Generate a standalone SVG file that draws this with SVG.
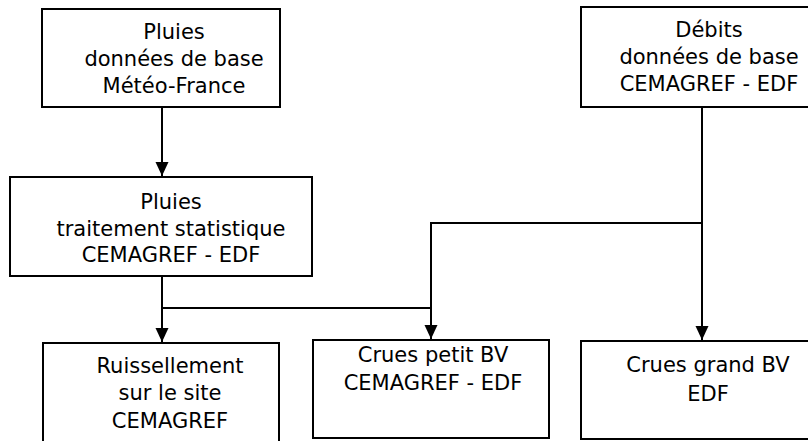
<svg xmlns="http://www.w3.org/2000/svg" width="808" height="441" viewBox="0 0 808 441">
<defs>
<marker id="arr" markerUnits="userSpaceOnUse" markerWidth="15" markerHeight="15" refX="14" refY="6.5" orient="auto">
<path d="M0,0 L14,6.5 L0,13 Z" fill="#000"/>
</marker>
<style>
.box{fill:#fff;stroke:#000;stroke-width:2}
.t{font-family:"DejaVu Sans","Liberation Sans",sans-serif;font-size:21px;fill:#000;text-anchor:middle}
.c{fill:none;stroke:#000;stroke-width:2}
</style>
</defs>
<rect width="808" height="441" fill="#fff"/>
<g id="connectors">
<path class="c" d="M162,107 V176" marker-end="url(#arr)"/>
<path class="c" d="M162,276 V342" marker-end="url(#arr)"/>
<path class="c" d="M162,308 H431 V339" marker-end="url(#arr)"/>
<path class="c" d="M702,107 V340" marker-end="url(#arr)"/>
<path class="c" d="M702,223 H431 V308"/>
</g>
<g id="pluies-base">
<rect class="box" x="42" y="9" width="238" height="98"/>
<text class="t" x="174" y="39">Pluies</text>
<text class="t" x="174" y="66">données de base</text>
<text class="t" x="174" y="93">Météo-France</text>
</g>
<g id="debits-base">
<rect class="box" x="581" y="7" width="232" height="100"/>
<text class="t" x="709" y="37">Débits</text>
<text class="t" x="709" y="64">données de base</text>
<text class="t" x="709" y="91">CEMAGREF - EDF</text>
</g>
<g id="pluies-traitement">
<rect class="box" x="10" y="177" width="302" height="99"/>
<text class="t" x="171" y="209">Pluies</text>
<text class="t" x="171" y="236">traitement statistique</text>
<text class="t" x="171" y="262">CEMAGREF - EDF</text>
</g>
<g id="ruissellement">
<rect class="box" x="43" y="343" width="236" height="104"/>
<text class="t" x="170" y="373">Ruissellement</text>
<text class="t" x="170" y="400">sur le site</text>
<text class="t" x="170" y="428">CEMAGREF</text>
</g>
<g id="crues-petit">
<rect class="box" x="313" y="340" width="236" height="98"/>
<text class="t" x="433" y="362">Crues petit BV</text>
<text class="t" x="433" y="390">CEMAGREF - EDF</text>
</g>
<g id="crues-grand">
<rect class="box" x="581" y="341" width="232" height="98"/>
<text class="t" x="708" y="372">Crues grand BV</text>
<text class="t" x="708" y="401">EDF</text>
</g>
</svg>
